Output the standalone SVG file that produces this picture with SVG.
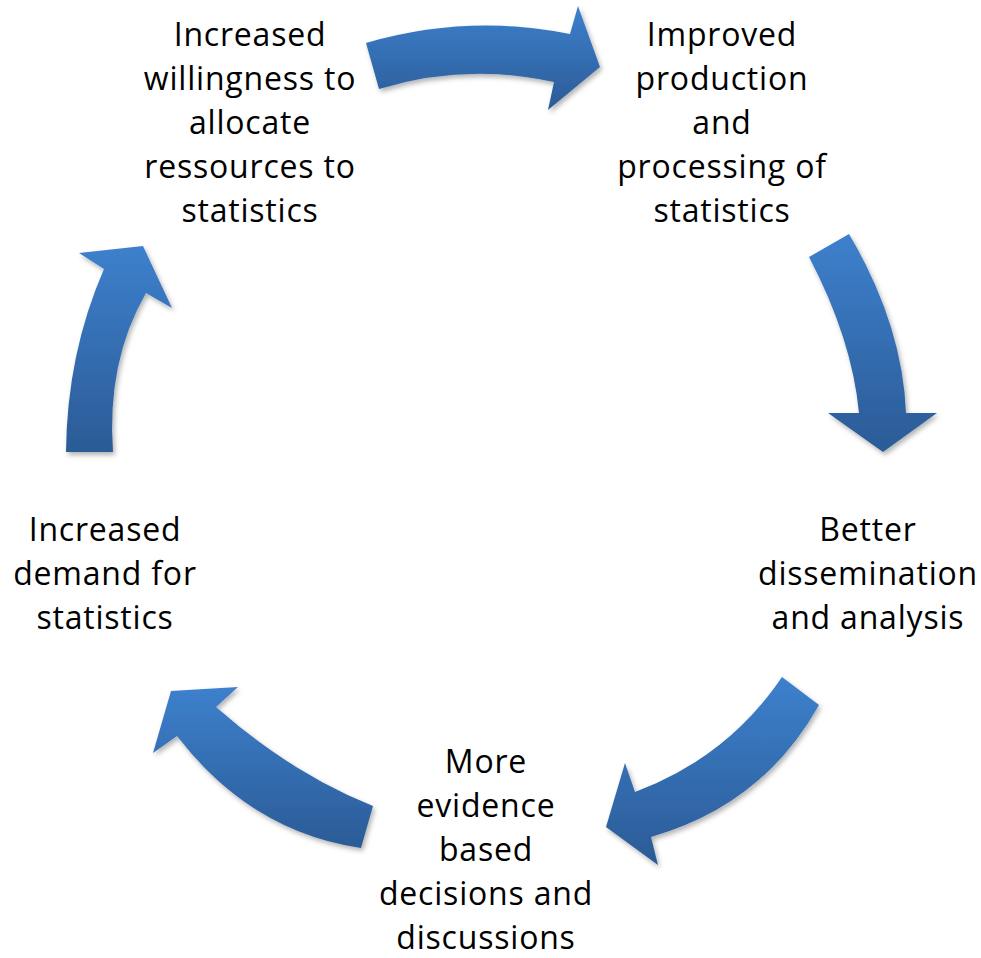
<svg xmlns="http://www.w3.org/2000/svg" width="981" height="958" viewBox="0 0 981 958">
  <defs>
    <linearGradient id="arrowFill" x1="0" y1="0" x2="0" y2="1">
      <stop offset="0" stop-color="#3d80cd"/>
      <stop offset="1" stop-color="#2b5b96"/>
    </linearGradient>
    <filter id="shadow" x="-20%" y="-20%" width="140%" height="140%">
      <feDropShadow dx="2" dy="3" stdDeviation="2.5" flood-color="#000" flood-opacity="0.3"/>
    </filter>
  </defs>
  <style>
    .arrow { fill: url(#arrowFill); filter: url(#shadow); }
    .label { font-family: "Open Sans", "Liberation Sans", sans-serif; font-size: 32px; letter-spacing: 0.8px; fill: #000; text-anchor: middle; }
  </style>
  <rect width="981" height="958" fill="#ffffff"/>

  <g id="connectors">
    <path id="arrow-1" class="arrow" d="M366,43 Q468,13.5 570,34 L578,6 L600,67 L548,110 L554,82 Q465.5,62.5 379,89 Z"/>
    <path id="arrow-2" class="arrow" d="M849,234 Q902.5,324.5 906,413 L937,413 L883,452 L828,413 L859,413 Q852,339 809,257 Z"/>
    <path id="arrow-3" class="arrow" d="M819,705 Q763,805 651,837 L658,865 L606,827 L625,763 L635,792 Q727.5,757.5 782,677 Z"/>
    <path id="arrow-4" class="arrow" d="M361,848 Q251,832 177,736 L153,753 L171,691 L238,687 L216,707 Q291.5,773.5 373,806 Z"/>
    <path id="arrow-5" class="arrow" d="M66,452 Q67,353.5 104,269 L79,253 L143,246 L172,308 L146,293 Q106.5,361.5 113,452 Z"/>
  </g>

  <g id="node-willingness">
    <text class="label" x="250" y="46">Increased</text>
    <text class="label" x="250" y="90">willingness to</text>
    <text class="label" x="250" y="134">allocate</text>
    <text class="label" x="250" y="178">ressources to</text>
    <text class="label" x="250" y="222">statistics</text>
  </g>

  <g id="node-production">
    <text class="label" x="722" y="46">Improved</text>
    <text class="label" x="722" y="90">production</text>
    <text class="label" x="722" y="134">and</text>
    <text class="label" x="722" y="178">processing of</text>
    <text class="label" x="722" y="222">statistics</text>
  </g>

  <g id="node-dissemination">
    <text class="label" x="868" y="541">Better</text>
    <text class="label" x="868" y="585">dissemination</text>
    <text class="label" x="868" y="629">and analysis</text>
  </g>

  <g id="node-decisions">
    <text class="label" x="486" y="773">More</text>
    <text class="label" x="486" y="817">evidence</text>
    <text class="label" x="486" y="861">based</text>
    <text class="label" x="486" y="905">decisions and</text>
    <text class="label" x="486" y="949">discussions</text>
  </g>

  <g id="node-demand">
    <text class="label" x="105" y="541">Increased</text>
    <text class="label" x="105" y="585">demand for</text>
    <text class="label" x="105" y="629">statistics</text>
  </g>
</svg>
